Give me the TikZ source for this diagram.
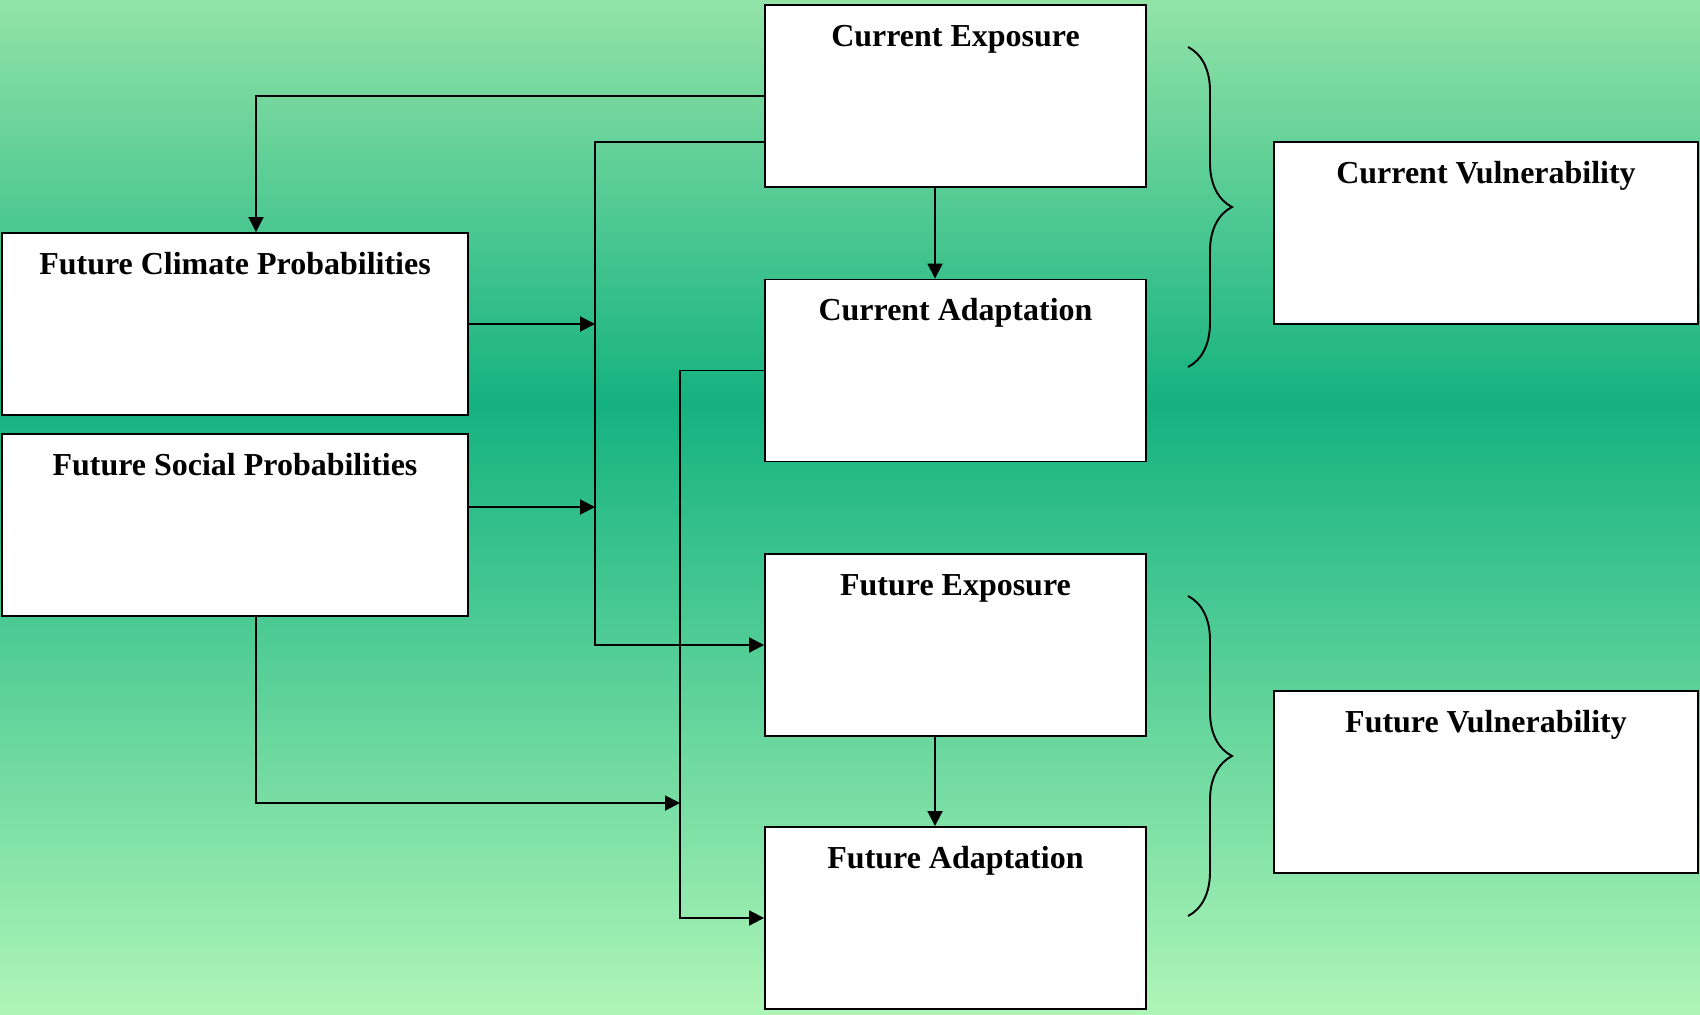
\documentclass[tikz,border=0pt]{standalone}
\usepackage{fontspec}
\setmainfont{Liberation Serif}
\usepackage{tikz}
\usetikzlibrary{arrows.meta,calc,decorations.pathreplacing}
\definecolor{bgtop}{RGB}{147,227,167}
\definecolor{bgmid}{RGB}{20,178,128}
\definecolor{bgbot}{RGB}{175,245,183}
\tikzset{
  x=0.02cm,y=-0.02cm,
  flow/.style={-{Triangle[length=0.3cm,width=0.3cm]},line width=1.1pt,draw=black},
  box/.style={draw=black,line width=1.1pt,fill=white,inner xsep=0pt,inner ysep=0pt,
    text height=0.82cm,text depth=2.82cm,align=center,
    font=\bfseries\fontsize{18.2}{22}\selectfont},
  midbox/.style={box,minimum width=7.62cm},
  leftbox/.style={box,minimum width=9.32cm},
  rightbox/.style={box,minimum width=8.48cm},
  curly/.style={line width=1.1pt,decorate,decoration={brace,amplitude=0.88cm,aspect=0.5}}
}
\begin{document}
\begin{tikzpicture}
\useasboundingbox (0,0) rectangle (1700,1014);
\shade[top color=bgtop,bottom color=bgmid] (0,0) rectangle (1700,404);
\shade[top color=bgmid,bottom color=bgbot] (0,404) rectangle (1700,1014);

% helper columns for the connectors
\coordinate (tapL) at (256,0);
\coordinate (busA) at (595,0);
\coordinate (busB) at (680,0);
\coordinate (tapM) at (935,0);

\node[midbox] (curexp) at (955.5,96) {Current Exposure};
\node[midbox] (curadp) at (955.5,370.5) {Current Adaptation};
\node[midbox] (futexp) at (955.5,645) {Future Exposure};
\node[midbox] (futadp) at (955.5,918) {Future Adaptation};
\node[leftbox] (clim) at (235,324) {Future Climate Probabilities};
\node[leftbox] (soc) at (235,525) {Future Social Probabilities};
\node[rightbox] (curvul) at (1486,233) {Current Vulnerability};
\node[rightbox] (futvul) at (1486,782) {Future Vulnerability};

\coordinate (exout) at ([yshift=-0.92cm]curexp.west);
\coordinate (socout) at ([yshift=0.36cm]soc.east);
\coordinate (socdn) at (256,803);

\draw[flow] (curexp.west) -| (tapL |- clim.north);
\draw[flow] (exout) -| (busA |- futexp.west) -- (futexp.west);
\draw[flow] (clim.east) -- (busA |- clim.east);
\draw[flow] (socout) -- (socout -| busA);
\draw[flow] (tapM |- curexp.south) -- (tapM |- curadp.north);
\draw[flow] (curadp.west) -| (busB |- futadp.west) -- (futadp.west);
\draw[flow] (tapL |- soc.south) -- (socdn) -- (socdn -| busB);
\draw[flow] (tapM |- futexp.south) -- (tapM |- futadp.north);

\draw[curly] (1188,47) -- (1188,367);
\draw[curly] (1188,596) -- (1188,916);
\end{tikzpicture}
\end{document}
